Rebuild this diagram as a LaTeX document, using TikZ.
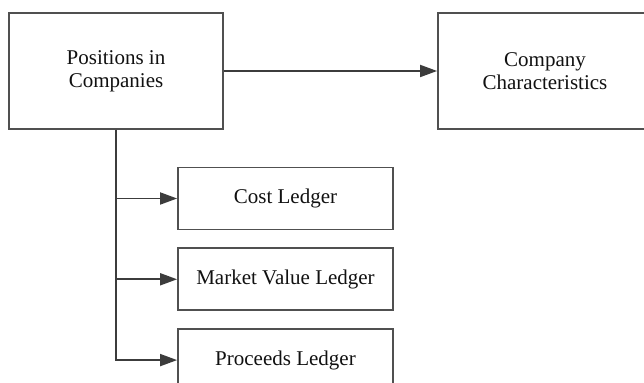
\documentclass[tikz,border=0pt]{standalone}
\usepackage{fontspec}
\setmainfont{Liberation Serif}
\usetikzlibrary{arrows.meta,positioning}
\definecolor{Ink}{HTML}{111111}
\definecolor{Edge}{HTML}{505050}
\definecolor{Wire}{HTML}{3C3C3C}
\tikzset{
  bigbox/.style={draw=Edge,fill=white,line width=0.9pt,minimum width=107pt,minimum height=58pt,align=center,font=\fontsize{10.5}{11.7}\selectfont,text=Ink},
  ledgerbox/.style={draw=Edge,fill=white,line width=0.9pt,minimum width=107.5pt,minimum height=31pt,align=center,font=\fontsize{10.5}{11.7}\selectfont,text=Ink},
  line/.style={-{Triangle[length=8.5pt,width=6pt]},draw=Wire,line width=0.9pt}
}

\begin{document}
\begin{tikzpicture}[x=0.5pt,y=-0.5pt,node distance=8.5pt]
  \clip (0,0) rectangle (644,383);
  \fill[white] (0,0) rectangle (644,383);
  \node[bigbox] (pos) at (116,71) {Positions in\\Companies};
  \node[bigbox] (chars) at (545,71) {Company\\Characteristics};
  \node[ledgerbox] (cost) at (285.5,198.5) {Cost Ledger};
  \node[ledgerbox,below=of cost] (mv) {Market Value Ledger};
  \node[ledgerbox,below=of mv] (proc) {Proceeds Ledger};
  \draw[line] (pos) -- (chars);
  \draw[line] (pos.south) |- (cost);
  \draw[line] (pos.south) |- (mv);
  \draw[line] (pos.south) |- (proc);
\end{tikzpicture}
\end{document}
